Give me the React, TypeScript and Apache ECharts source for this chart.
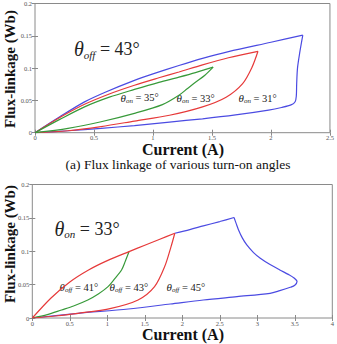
import React, { useEffect, useRef } from "react";
import * as echarts from "echarts";

type Pt = [number, number];

// (a) θoff = 43°, turn-on angle varied — current (A) vs flux-linkage (Wb)
const on31Rise: Pt[] = [[0, 0], [0.21, 0.0246], [0.42, 0.0477], [0.6, 0.063], [0.843, 0.081], [1.0, 0.091], [1.22, 0.104], [1.42, 0.115], [1.64, 0.1255], [2.0, 0.14], [2.27, 0.151]];
const on31Fall: Pt[] = [[2.27, 0.151], [2.245, 0.125], [2.225, 0.1], [2.218, 0.075], [2.215, 0.057], [2.205, 0.048], [2.17, 0.043], [2.09, 0.039], [1.98, 0.035], [1.7, 0.0275], [1.42, 0.0215], [1.14, 0.0165], [0.843, 0.011], [0.56, 0.0068], [0.28, 0.003], [0, 0]];
const on33Rise: Pt[] = [[0, 0], [0.21, 0.0235], [0.42, 0.044], [0.63, 0.06], [0.843, 0.0735], [1.05, 0.085], [1.22, 0.094], [1.42, 0.105], [1.64, 0.116], [1.89, 0.126]];
const on33Fall: Pt[] = [[1.89, 0.126], [1.84, 0.1015], [1.76, 0.076], [1.62, 0.055], [1.42, 0.04], [1.14, 0.027], [0.843, 0.018], [0.56, 0.0095], [0.28, 0.003], [0, 0]];
const on35Rise: Pt[] = [[0, 0], [0.21, 0.0206], [0.42, 0.04], [0.63, 0.055], [0.843, 0.067], [1.05, 0.078], [1.22, 0.086], [1.36, 0.093], [1.51, 0.1015]];
const on35Fall: Pt[] = [[1.51, 0.1015], [1.44, 0.089], [1.36, 0.078], [1.29, 0.068], [1.22, 0.058], [1.08, 0.0435], [0.843, 0.03], [0.56, 0.017], [0.28, 0.0068], [0, 0]];

// (b) θon = 33°, turn-off angle varied; the rising branch is common to all three
const sharedRise: Pt[] = [[0, 0], [0.25, 0.03], [0.5, 0.054], [0.75, 0.072], [1.0, 0.086], [1.29, 0.0995], [1.5, 0.109], [1.7, 0.118], [1.9, 0.127]];
const off45RiseTail: Pt[] = [[1.9, 0.127], [2.1, 0.1325], [2.28, 0.138], [2.5, 0.1445], [2.69, 0.1505]];
const off41Fall: Pt[] = [[1.29, 0.0995], [1.24, 0.085], [1.19, 0.072], [1.1, 0.059], [1.01, 0.047], [0.88, 0.036], [0.74, 0.027], [0.55, 0.018], [0.39, 0.012], [0.2, 0.005], [0, 0]];
const off43Fall: Pt[] = [[1.9, 0.127], [1.85, 0.107], [1.765, 0.077], [1.63, 0.047], [1.41, 0.027], [1.05, 0.0145], [0.61, 0.007], [0.3, 0.003], [0, 0]];
const off45Fall: Pt[] = [[2.69, 0.1505], [2.72, 0.141], [2.75, 0.132], [2.8, 0.12], [2.86, 0.1095], [2.95, 0.098], [3.04, 0.0895], [3.17, 0.08], [3.3, 0.072], [3.42, 0.065], [3.49, 0.06], [3.53, 0.0545], [3.5, 0.049], [3.44, 0.046], [3.3, 0.041], [3.17, 0.037], [2.73, 0.032], [2.28, 0.027], [1.84, 0.021], [1.28, 0.0135], [0.61, 0.007], [0, 0]];

const topXMax = 2.5;
const bottomXMax = 4;
const yMax = 0.2;

const BLUE = "#4b4be2";
const RED = "#e63a3a";
const GREEN = "#389a3a";
const FRAME = "#8a8a8a";
const SERIF = "Liberation Serif";

function curve(data: Pt[], color: string, grid: number, z: number) {
  return {
    type: "line",
    data,
    xAxisIndex: grid * 2,
    yAxisIndex: grid * 2,
    symbol: "none",
    smooth: 0.3,
    silent: true,
    z,
    lineStyle: { color, width: 1.2 },
  };
}

function axisPair(kind: "x" | "y", gridIndex: number, max: number, interval: number) {
  const tick = { show: true, inside: true, length: 3, lineStyle: { color: FRAME, width: 1 } };
  const base = {
    type: "value",
    gridIndex,
    min: 0,
    max,
    interval,
    axisLine: { show: false },
    splitLine: { show: false },
    axisTick: tick,
  };
  const label = {
    fontSize: 6.5,
    fontFamily: SERIF,
    color: "#555",
    margin: kind === "x" ? 1.5 : 3,
  };
  return [
    { ...base, position: kind === "x" ? "bottom" : "left", axisLabel: label },
    { ...base, position: kind === "x" ? "top" : "right", axisLabel: { show: false } },
  ];
}

function angleLabel(x: number, y: number, sub: string, rest: string, big: boolean) {
  const s = big
    ? { th: 20, sb: 11, eq: 18, lh: 22 }
    : { th: 11, sb: 7, eq: 10.5, lh: 13 };
  return {
    type: "text",
    x,
    y,
    silent: true,
    style: {
      text: `{th|θ}{sb|${sub}}{eq|${rest}}`,
      fontFamily: SERIF,
      align: "left",
      verticalAlign: "middle",
      rich: {
        th: { font: `italic ${s.th}px "${SERIF}"`, fontSize: s.th, fontStyle: "italic", fontFamily: SERIF, fill: "#222", lineHeight: s.lh, verticalAlign: "middle" },
        sb: { font: `italic ${s.sb}px "${SERIF}"`, fontSize: s.sb, fontStyle: "italic", fontFamily: SERIF, fill: "#222", lineHeight: s.sb, verticalAlign: "bottom" },
        eq: { font: `${s.eq}px "${SERIF}"`, fontSize: s.eq, fontFamily: SERIF, fill: "#222", lineHeight: s.lh, verticalAlign: "middle" },
      },
    },
  };
}

function plainText(x: number, y: number, text: string, size: number, bold: boolean, rotation = 0) {
  return {
    type: "text",
    x,
    y,
    rotation,
    silent: true,
    style: {
      text,
      fontSize: size,
      fontWeight: bold ? "bold" : "normal",
      fontFamily: SERIF,
      fill: "#111",
      align: "center",
      verticalAlign: "middle",
    },
  };
}

export default function App() {
  const ref = useRef<HTMLDivElement>(null);

  useEffect(() => {
    if (!ref.current) return;
    const chart = echarts.init(ref.current, undefined, { renderer: "svg" });
    const gridStyle = { show: true, borderColor: FRAME, borderWidth: 1, backgroundColor: "transparent" };
    chart.setOption({
      animation: false,
      backgroundColor: "#fff",
      grid: [
        { ...gridStyle, left: 35, top: 2.7, width: 295.5, height: 130 },
        { ...gridStyle, left: 32.3, top: 184.5, width: 300, height: 133.5 },
      ],
      xAxis: [...axisPair("x", 0, topXMax, 0.5), ...axisPair("x", 1, bottomXMax, 0.5)],
      yAxis: [...axisPair("y", 0, yMax, 0.05), ...axisPair("y", 1, yMax, 0.05)],
      series: [
        curve(on31Rise, BLUE, 0, 2),
        curve(on31Fall, BLUE, 0, 2),
        curve(on33Rise, RED, 0, 3),
        curve(on33Fall, RED, 0, 3),
        curve(on35Rise, GREEN, 0, 4),
        curve(on35Fall, GREEN, 0, 4),
        curve(off45RiseTail, BLUE, 1, 2),
        curve(off45Fall, BLUE, 1, 2),
        curve(off41Fall, GREEN, 1, 3),
        curve(sharedRise, RED, 1, 4),
        curve(off43Fall, RED, 1, 4),
      ],
      graphic: [
        plainText(183, 149, "Current (A)", 16, true),
        plainText(183, 334.5, "Current (A)", 16, true),
        plainText(10, 69, "Flux-linkage (Wb)", 15, true, Math.PI / 2),
        plainText(9.5, 244, "Flux-linkage (Wb)", 15, true, Math.PI / 2),
        {
          type: "text",
          x: 178,
          y: 164,
          silent: true,
          style: {
            text: "(a) Flux linkage of various turn-on angles",
            fontSize: 13.5,
            fontFamily: SERIF,
            fill: "#111",
            align: "center",
            verticalAlign: "middle",
          },
        },
        angleLabel(74, 49, "off", " = 43°", true),
        angleLabel(120.5, 97.5, "on", " = 35°", false),
        angleLabel(176.5, 98, "on", " = 33°", false),
        angleLabel(238.5, 98, "on", " = 31°", false),
        angleLabel(54.5, 228.5, "on", " = 33°", true),
        angleLabel(59.5, 287, "off", " = 41°", false),
        angleLabel(109.5, 287, "off", " = 43°", false),
        angleLabel(166.5, 287, "off", " = 45°", false),
      ],
    });
    return () => chart.dispose();
  }, []);

  return (
    <div
      ref={ref}
      style={{ position: "absolute", left: 0, top: 0, width: 337, height: 344 }}
    />
  );
}
